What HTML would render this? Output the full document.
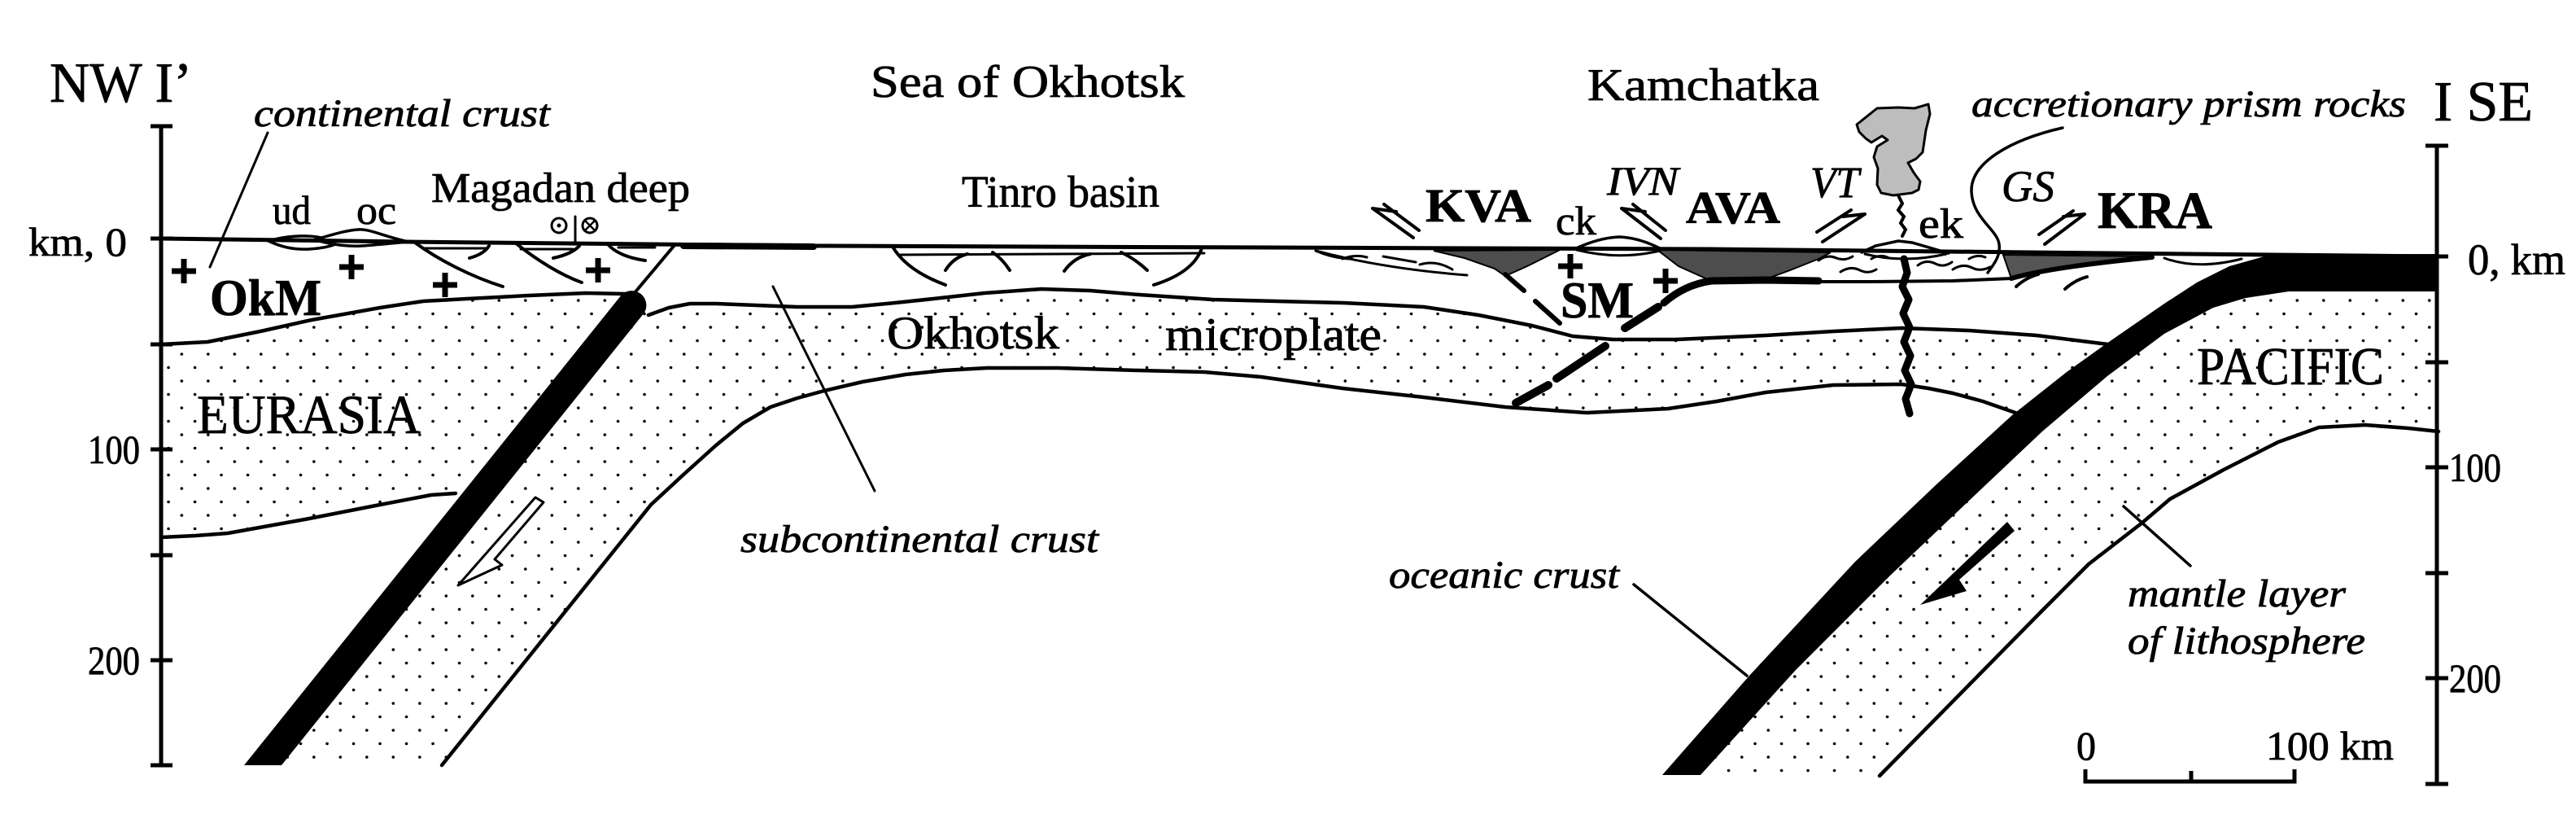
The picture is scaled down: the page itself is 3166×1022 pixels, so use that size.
<!DOCTYPE html>
<html>
<head>
<meta charset="utf-8">
<style>
html,body{margin:0;padding:0;background:#fff;}
svg{display:block;}
text{font-family:"Liberation Serif","Times New Roman",serif;fill:#000;stroke:#000;stroke-width:0.8;}
.it{font-style:italic;}
.b{font-weight:bold;}
</style>
</head>
<body>
<svg width="3166" height="1022" viewBox="0 0 3166 1022" xmlns="http://www.w3.org/2000/svg">
<defs>
<pattern id="dots" patternUnits="userSpaceOnUse" x="20.3" y="-2" width="32.5" height="33">
<circle cx="8" cy="8" r="1.8" fill="#000"/>
<circle cx="24.25" cy="24.5" r="1.8" fill="#000"/>
</pattern>
</defs>
<rect width="3166" height="1022" fill="#fff"/>

<!-- Dotted regions -->
<path d="M198,423 L255,420 L320,407 L383,393 L467,378 L520,370 L574,367 L650,363 L720,360 L770,361 L790,372 L575,606 L530,608 L467,620 L380,637 L330,646 L280,655 L240,658 L198,660 Z" fill="url(#dots)"/>
<path d="M790,380 L797,387 L822,378 L848,373 L880,373 L930,375 L980,377 L1047,377 L1100,372 L1147,367 L1210,360 L1280,355 L1340,357 L1400,362 L1491,368 L1650,372 L1750,377 L1817,387 L1883,400 L1933,413 L1983,417 L2060,417 L2170,412 L2253,407 L2337,403 L2420,406 L2503,412 L2583,422 L2620,425 L2500,520 L2477,507 L2437,493 L2400,483 L2370,477 L2337,472 L2253,473 L2170,482 L2110,493 L2050,502 L1950,507 L1850,500 L1750,488 L1650,477 L1550,463 L1480,457 L1400,455 L1300,452 L1213,452 L1160,455 L1113,460 L1060,469 L1013,480 L980,489 L947,500 L913,520 L880,547 L840,583 L800,620 L543,940 L300,940 Z" fill="url(#dots)"/>
<path d="M2997,356 L2813,356 L2760,365 L2720,378 L2660,410 L2590,462 L2510,530 L2420,615 L2323,707 L2207,823 L2090,952 L2310,953 L2510,750 L2567,693 L2633,642 L2667,613 L2733,577 L2800,543 L2850,525 L2907,522 L2997,530 Z" fill="url(#dots)"/>

<!-- Boundary lines -->
<g fill="none" stroke="#000" stroke-width="4.5" stroke-linejoin="round" stroke-linecap="round">
<path d="M198,423 L255,420 L320,407 L383,393 L467,378 L520,370 L574,367 L650,363 L720,360 L770,361"/>
<path d="M198,660 L240,658 L280,655 L330,646 L380,637 L467,620 L530,608 L560,606"/>
<path d="M797,387 L822,378 L848,373 L880,373 L930,375 L980,377 L1047,377 L1100,372 L1147,367 L1210,360 L1280,355 L1340,357 L1400,362 L1491,368 L1650,372 L1750,377 L1817,387 L1883,400 L1933,413 L1983,417 L2060,417 L2170,412 L2253,407 L2337,403 L2420,406 L2503,412 L2583,422 L2600,424"/>
<path d="M2490,512 L2477,507 L2437,493 L2400,483 L2370,477 L2337,472 L2253,473 L2170,482 L2110,493 L2050,502 L1950,507 L1850,500 L1750,488 L1650,477 L1550,463 L1480,457 L1400,455 L1300,452 L1213,452 L1160,455 L1113,460 L1060,469 L1013,480 L980,489 L947,500 L913,520 L880,547 L840,583 L800,620 L543,940"/>
<path d="M2310,953 L2510,750 L2567,693 L2633,642 L2667,613 L2733,577 L2800,543 L2850,525 L2907,522 L2960,526 L2997,530"/>
<!-- surface -->
<path d="M198,293 L500,297 L1000,302 L2100,306 L2690,312 L2997,315" stroke-width="5"/>
<path d="M840,302 L1000,303" stroke-width="8"/>
</g>

<!-- Okhotsk slab (black) -->
<path d="M300,940 L764,362 A18,18 0 0 1 792,384 L346,940 Z" fill="#000"/>
<!-- Pacific slab (black) -->
<path d="M2997,312 L2790,313 L2740,327 L2700,347 L2660,373 L2589,422 L2540,457 L2473,510 L2380,595 L2280,690 L2215,760 L2150,830 L2043,952 L2090,952 L2207,823 L2323,707 L2420,615 L2510,530 L2590,462 L2660,410 L2720,378 L2760,366 L2813,358 L2997,358 Z" fill="#000"/>

<!-- Magadan fault to slab -->
<path d="M830,300 L773,368" stroke="#000" stroke-width="4" fill="none"/>

<!-- ud / oc lenses -->
<g fill="none" stroke="#000" stroke-width="3.5" stroke-linecap="round">
<path d="M330,296 C350,290 375,288 395,292"/>
<path d="M330,296 C345,303 360,307 380,306 C395,305 405,303 412,300"/>
<path d="M388,294 C410,288 425,283 440,282 C455,281 470,290 502,297"/>
<path d="M392,296 C410,301 430,303 445,302 C470,300 490,298 502,297"/>
</g>

<!-- Magadan deep faults -->
<g fill="none" stroke="#000" stroke-width="4" stroke-linecap="round">
<path d="M510,298 C540,320 580,340 618,352"/>
<path d="M577,317 Q595,312 601,302"/>
<path d="M520,305 L597,305" stroke-width="3"/>
<path d="M633,298 C660,320 690,338 715,347"/>
<path d="M680,317 Q703,312 712,302"/>
<path d="M640,306 L704,306" stroke-width="3"/>
<path d="M747,300 Q760,315 793,320"/>
<path d="M760,304 L805,304" stroke-width="3"/>
<path d="M707,266 L707,298" stroke-width="3"/>
</g>
<circle cx="687" cy="277" r="9" fill="none" stroke="#000" stroke-width="3"/>
<circle cx="687" cy="277" r="2.5" fill="#000"/>
<circle cx="725" cy="277" r="9" fill="none" stroke="#000" stroke-width="3"/>
<path d="M719,271 L731,283 M731,271 L719,283" stroke="#000" stroke-width="2.5"/>

<!-- Tinro basin faults -->
<g fill="none" stroke="#000" stroke-width="4" stroke-linecap="round">
<path d="M1097,303 C1110,325 1135,340 1162,350"/>
<path d="M1107,313 L1480,311" stroke-width="3"/>
<path d="M1162,332 Q1172,316 1189,312"/>
<path d="M1220,310 Q1232,318 1241,332"/>
<path d="M1308,333 Q1320,316 1340,312"/>
<path d="M1378,310 Q1395,318 1410,332"/>
<path d="M1477,305 C1470,325 1450,340 1418,350"/>
</g>

<!-- Plus signs -->
<g stroke="#000" stroke-width="7" fill="none">
<path d="M211,333 h30 M226,318 v30"/>
<path d="M417,328 h30 M432,313 v30"/>
<path d="M532,350 h30 M547,335 v30"/>
<path d="M720,332 h30 M735,317 v30"/>
<path d="M1915,327 h30 M1930,312 v30"/>
<path d="M2032,345 h30 M2047,330 v30"/>
</g>

<!-- Kamchatka surface features -->
<path d="M1762,308 L1917,307 L1903,314 L1877,327 L1850,339 L1837,330 L1800,317 Z" fill="#4d4d4d" stroke="#000" stroke-width="2"/>
<path d="M2037,307 L2250,310 L2235,318 L2200,332 L2170,343 L2103,345 L2063,327 Z" fill="#4d4d4d" stroke="#000" stroke-width="2"/>
<path d="M2462,313 L2645,315 L2610,320 L2560,326 L2510,332 L2472,342 Z" fill="#555" stroke="#000" stroke-width="2"/>
<g fill="none" stroke="#000" stroke-linecap="round">
<path d="M1850,337 L1873,357" stroke-width="6"/>
<path d="M1887,370 L1917,397" stroke-width="6"/>
<path d="M1863,495 L1903,473 M1913,465 L1973,425 M1997,403 L2038,377" stroke-width="10"/>
<path d="M2045,372 Q2070,350 2103,345 L2170,344 L2235,345" stroke-width="9"/>
<path d="M2235,346 L2300,346 L2400,345 L2472,342" stroke-width="4"/>
<path d="M2472,342 Q2520,328 2645,316" stroke-width="6"/>
<path d="M2478,352 Q2490,341 2505,337" stroke-width="4"/>
<path d="M2538,355 Q2550,344 2565,340" stroke-width="4"/>
<!-- accretionary wiggles -->
<path d="M2235,320 q10,-8 22,-3 q10,4 20,-2" stroke-width="3"/>
<path d="M2262,334 q12,-8 24,-2 q10,5 20,-1" stroke-width="3"/>
<path d="M2300,318 q10,-6 20,-2" stroke-width="3"/>
<path d="M2357,326 q10,-8 22,-2 q10,5 20,-2" stroke-width="3"/>
<path d="M2400,331 q12,-8 24,-2 q10,5 22,-1" stroke-width="3"/>
<path d="M2420,318 q10,-6 20,-2" stroke-width="3"/>
<!-- left lenses -->
<path d="M1617,308 Q1700,330 1803,338" stroke-width="3"/>
<path d="M1617,308 Q1640,318 1662,318" stroke-width="3"/>
<path d="M1650,318 q15,-6 30,-2" stroke-width="3"/>
<path d="M1700,315 L1740,322" stroke-width="3"/>
<path d="M1745,325 q20,-6 40,6" stroke-width="3"/>
<path d="M2660,317 Q2700,332 2755,318" stroke-width="3"/>
<!-- ck lens -->
<path d="M1935,306 Q1965,292 1990,291 Q2015,292 2042,306" stroke-width="3.5"/>
<path d="M1938,307 Q1990,320 2040,308" stroke-width="3"/>
<!-- ek lens -->
<path d="M2288,310 L2305,302 L2333,296 L2350,298 L2395,311" stroke-width="3.5"/>
<path d="M2292,312 Q2340,324 2392,312" stroke-width="3"/>
<!-- conduit -->
<path d="M2340,318 L2344,335 L2338,352 L2346,368 L2339,385 L2347,402 L2340,420 L2348,437 L2341,455 L2349,472 L2342,490 L2347,508" stroke-width="9" stroke-linejoin="round"/>
<!-- plume tail -->
<path d="M2333,240 L2338,250 L2333,258 L2340,266 L2336,274 L2342,282 L2338,290" stroke-width="4"/>
<!-- strike-slip symbols -->
<path d="M1687,256 L1737,292 M1701,251 L1744,283 M1687,256 L1716,260" stroke-width="4"/>
<path d="M1993,256 L2041,293 M2007,251 L2047,283 M1993,256 L2022,260" stroke-width="4"/>
<path d="M2240,297 L2292,263 M2233,285 L2275,258 M2292,263 L2265,266" stroke-width="4"/>
<path d="M2513,300 L2562,263 M2506,288 L2548,259 M2562,263 L2536,266" stroke-width="4"/>
<!-- leaders -->
<path d="M329,163 L258,328" stroke-width="3"/>
<path d="M950,352 L1075,603" stroke-width="3"/>
<path d="M2008,718 L2147,830" stroke-width="3.5"/>
<path d="M2610,622 L2692,695" stroke-width="3.5"/>
<path d="M2535,157 C2470,172 2422,200 2423,235 C2424,268 2455,282 2457,300 C2459,315 2450,325 2443,335" stroke-width="3.5"/>
</g>

<!-- Plume -->
<path d="M2282,153 L2307,133 L2333,132 L2353,133 L2370,128 L2372,140 L2367,160 L2363,187 L2355,195 L2345,200 L2352,212 L2360,223 L2358,233 L2350,237 L2327,240 L2312,237 L2307,227 L2308,207 L2303,193 L2307,180 L2320,172 L2313,167 L2300,175 L2293,170 L2285,162 Z" fill="#bdbdbd" stroke="#000" stroke-width="3" stroke-linejoin="round"/>

<!-- Arrows -->
<path d="M658,611 L668,617 L608,687 L617,694 L563,719 Z" fill="#fff" stroke="#000" stroke-width="3" stroke-linejoin="round"/>
<path d="M2467,641 L2476,652 L2408,712 L2417,726 L2360,743 Z" fill="#000"/>

<!-- Axes -->
<g stroke="#000" stroke-width="5" fill="none">
<path d="M198,155 V940"/>
<path d="M185,155 H212 M185,293 H212 M185,423 H212 M185,552 H212 M185,682 H212 M185,811 H212 M185,940 H212"/>
<path d="M2995,179 V963"/>
<path d="M2981,179 H3009 M2981,315 H3009 M2981,445 H3009 M2981,574 H3009 M2981,704 H3009 M2981,833 H3009 M2981,963 H3009"/>
<path d="M2563,945 V960 H2820 V945 M2693,947 V960"/>
</g>

<!-- Text -->
<text x="61" y="125" font-size="70" textLength="175" lengthAdjust="spacingAndGlyphs">NW I’</text>
<text class="it" x="312" y="155" font-size="48" textLength="364" lengthAdjust="spacingAndGlyphs">continental crust</text>
<text x="1070" y="119" font-size="56" textLength="386" lengthAdjust="spacingAndGlyphs">Sea of Okhotsk</text>
<text x="1951" y="123" font-size="56" textLength="285" lengthAdjust="spacingAndGlyphs">Kamchatka</text>
<text class="it" x="2423" y="143" font-size="47" textLength="534" lengthAdjust="spacingAndGlyphs">accretionary prism rocks</text>
<text x="2991" y="148" font-size="70" textLength="122" lengthAdjust="spacingAndGlyphs">I SE</text>
<text x="35" y="314" font-size="50" textLength="121" lengthAdjust="spacingAndGlyphs">km, 0</text>
<text x="335" y="275" font-size="50" textLength="47" lengthAdjust="spacingAndGlyphs">ud</text>
<text x="438" y="275" font-size="50" textLength="49" lengthAdjust="spacingAndGlyphs">oc</text>
<text x="530" y="248" font-size="52" textLength="318" lengthAdjust="spacingAndGlyphs">Magadan deep</text>
<text class="b" x="258" y="387" font-size="63" textLength="137" lengthAdjust="spacingAndGlyphs">OkM</text>
<text x="1182" y="254" font-size="55" textLength="243" lengthAdjust="spacingAndGlyphs">Tinro basin</text>
<text class="b" x="1752" y="272" font-size="58" textLength="130" lengthAdjust="spacingAndGlyphs">KVA</text>
<text x="1912" y="288" font-size="50" textLength="50" lengthAdjust="spacingAndGlyphs">ck</text>
<text class="it" x="1975" y="239" font-size="50" textLength="88" lengthAdjust="spacingAndGlyphs">IVN</text>
<text class="b" x="2072" y="274" font-size="56" textLength="116" lengthAdjust="spacingAndGlyphs">AVA</text>
<text class="it" x="2225" y="242" font-size="54" textLength="60" lengthAdjust="spacingAndGlyphs">VT</text>
<text x="2358" y="292" font-size="52" textLength="55" lengthAdjust="spacingAndGlyphs">ek</text>
<text class="it" x="2460" y="247" font-size="54" textLength="65" lengthAdjust="spacingAndGlyphs">GS</text>
<text class="b" x="2578" y="280" font-size="65" textLength="141" lengthAdjust="spacingAndGlyphs">KRA</text>
<text x="242" y="532" font-size="68" textLength="275" lengthAdjust="spacingAndGlyphs">EURASIA</text>
<text x="1090" y="428" font-size="57" textLength="212" lengthAdjust="spacingAndGlyphs">Okhotsk</text>
<text x="1432" y="430" font-size="57" textLength="266" lengthAdjust="spacingAndGlyphs">microplate</text>
<text class="b" x="1918" y="390" font-size="63" textLength="90" lengthAdjust="spacingAndGlyphs">SM</text>
<text x="2700" y="472" font-size="66" textLength="230" lengthAdjust="spacingAndGlyphs">PACIFIC</text>
<text x="3033" y="337" font-size="54" textLength="120" lengthAdjust="spacingAndGlyphs">0, km</text>
<text x="108" y="569" font-size="50" textLength="64" lengthAdjust="spacingAndGlyphs">100</text>
<text x="108" y="828" font-size="50" textLength="64" lengthAdjust="spacingAndGlyphs">200</text>
<text x="3010" y="591" font-size="50" textLength="64" lengthAdjust="spacingAndGlyphs">100</text>
<text x="3010" y="850" font-size="50" textLength="64" lengthAdjust="spacingAndGlyphs">200</text>
<text class="it" x="910" y="678" font-size="48" textLength="440" lengthAdjust="spacingAndGlyphs">subcontinental crust</text>
<text class="it" x="1707" y="722" font-size="48" textLength="283" lengthAdjust="spacingAndGlyphs">oceanic crust</text>
<text class="it" x="2615" y="745" font-size="48" textLength="268" lengthAdjust="spacingAndGlyphs">mantle layer</text>
<text class="it" x="2615" y="803" font-size="48" textLength="292" lengthAdjust="spacingAndGlyphs">of lithosphere</text>
<text x="2552" y="933" font-size="50" textLength="24" lengthAdjust="spacingAndGlyphs">0</text>
<text x="2785" y="933" font-size="50" textLength="157" lengthAdjust="spacingAndGlyphs">100 km</text>
</svg>
</body>
</html>
